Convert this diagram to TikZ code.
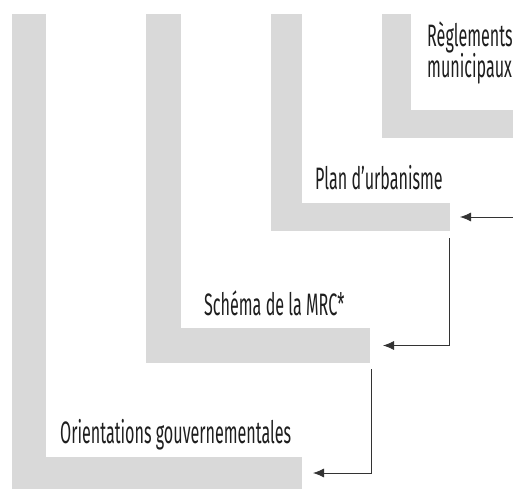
\documentclass[tikz,border=0pt]{standalone}
\usepackage{fontspec}
\setmainfont{Fira Sans}[FakeStretch=0.52]
\usetikzlibrary{arrows.meta, positioning, calc}
\definecolor{barcolor}{HTML}{D9D9D9}
\definecolor{linkcolor}{HTML}{333333}
\definecolor{textcolor}{HTML}{1E1E1E}
\tikzset{
  bar/.style={rectangle,fill=barcolor,inner sep=0pt,outer sep=0pt,anchor=north west},
  levelname/.style={anchor=base west,inner sep=0pt,text=textcolor,align=left,
    font=\fontsize{31}{19}\selectfont},
  link/.style={draw=linkcolor,line width=0.8pt,-{Latex[length=11pt,width=9pt]}},
}
\begin{document}
\begin{tikzpicture}[x=1pt,y=-1pt]
	\useasboundingbox (0,0) rectangle (513,489);
	% Orientations gouvernementales
	\node[bar,minimum width=34pt,minimum height=443pt] (orvbar) at (12,14) {};
	\node[bar,minimum width=290pt,minimum height=32pt] (orhbar) at (12,457) {};
	\node[levelname] (ortext) at (60,443) {Orientations gouvernementales};
	% Schema de la MRC
	\node[bar,minimum width=35pt,minimum height=314pt] (schvbar) at (146,14) {};
	\node[bar,minimum width=224pt,minimum height=35pt] (schhbar) at (146,328) {};
	\node[levelname] (schtext) at (204,315) {Schéma de la MRC*};
	% Plan d'urbanisme
	\node[bar,minimum width=31pt,minimum height=189pt] (planvbar) at (271,14) {};
	\node[bar,minimum width=179pt,minimum height=28pt] (planhbar) at (271,203) {};
	\node[levelname] (plantext) at (315,189) {Plan d’urbanisme};
	% Reglements municipaux
	\node[bar,minimum width=29pt,minimum height=96pt] (reglvbar) at (382,14) {};
	\node[bar,minimum width=160pt,minimum height=28pt] (reglhbar) at (382,110) {};
	\node[levelname] (regltext) at (427,78) {Règlements\\municipaux};
	% links
	\coordinate[right=63pt of planhbar.east] (planin);
	\draw[link] (planin) -- ([xshift=10pt]planhbar.east);
	\draw[link] ([xshift=-1pt,yshift=-7pt]planhbar.south east) |- ([xshift=13pt]schhbar.east);
	\draw[link] ([xshift=1pt,yshift=-6pt]schhbar.south east) |- ([xshift=11pt]orhbar.east);
\end{tikzpicture}
\end{document}
